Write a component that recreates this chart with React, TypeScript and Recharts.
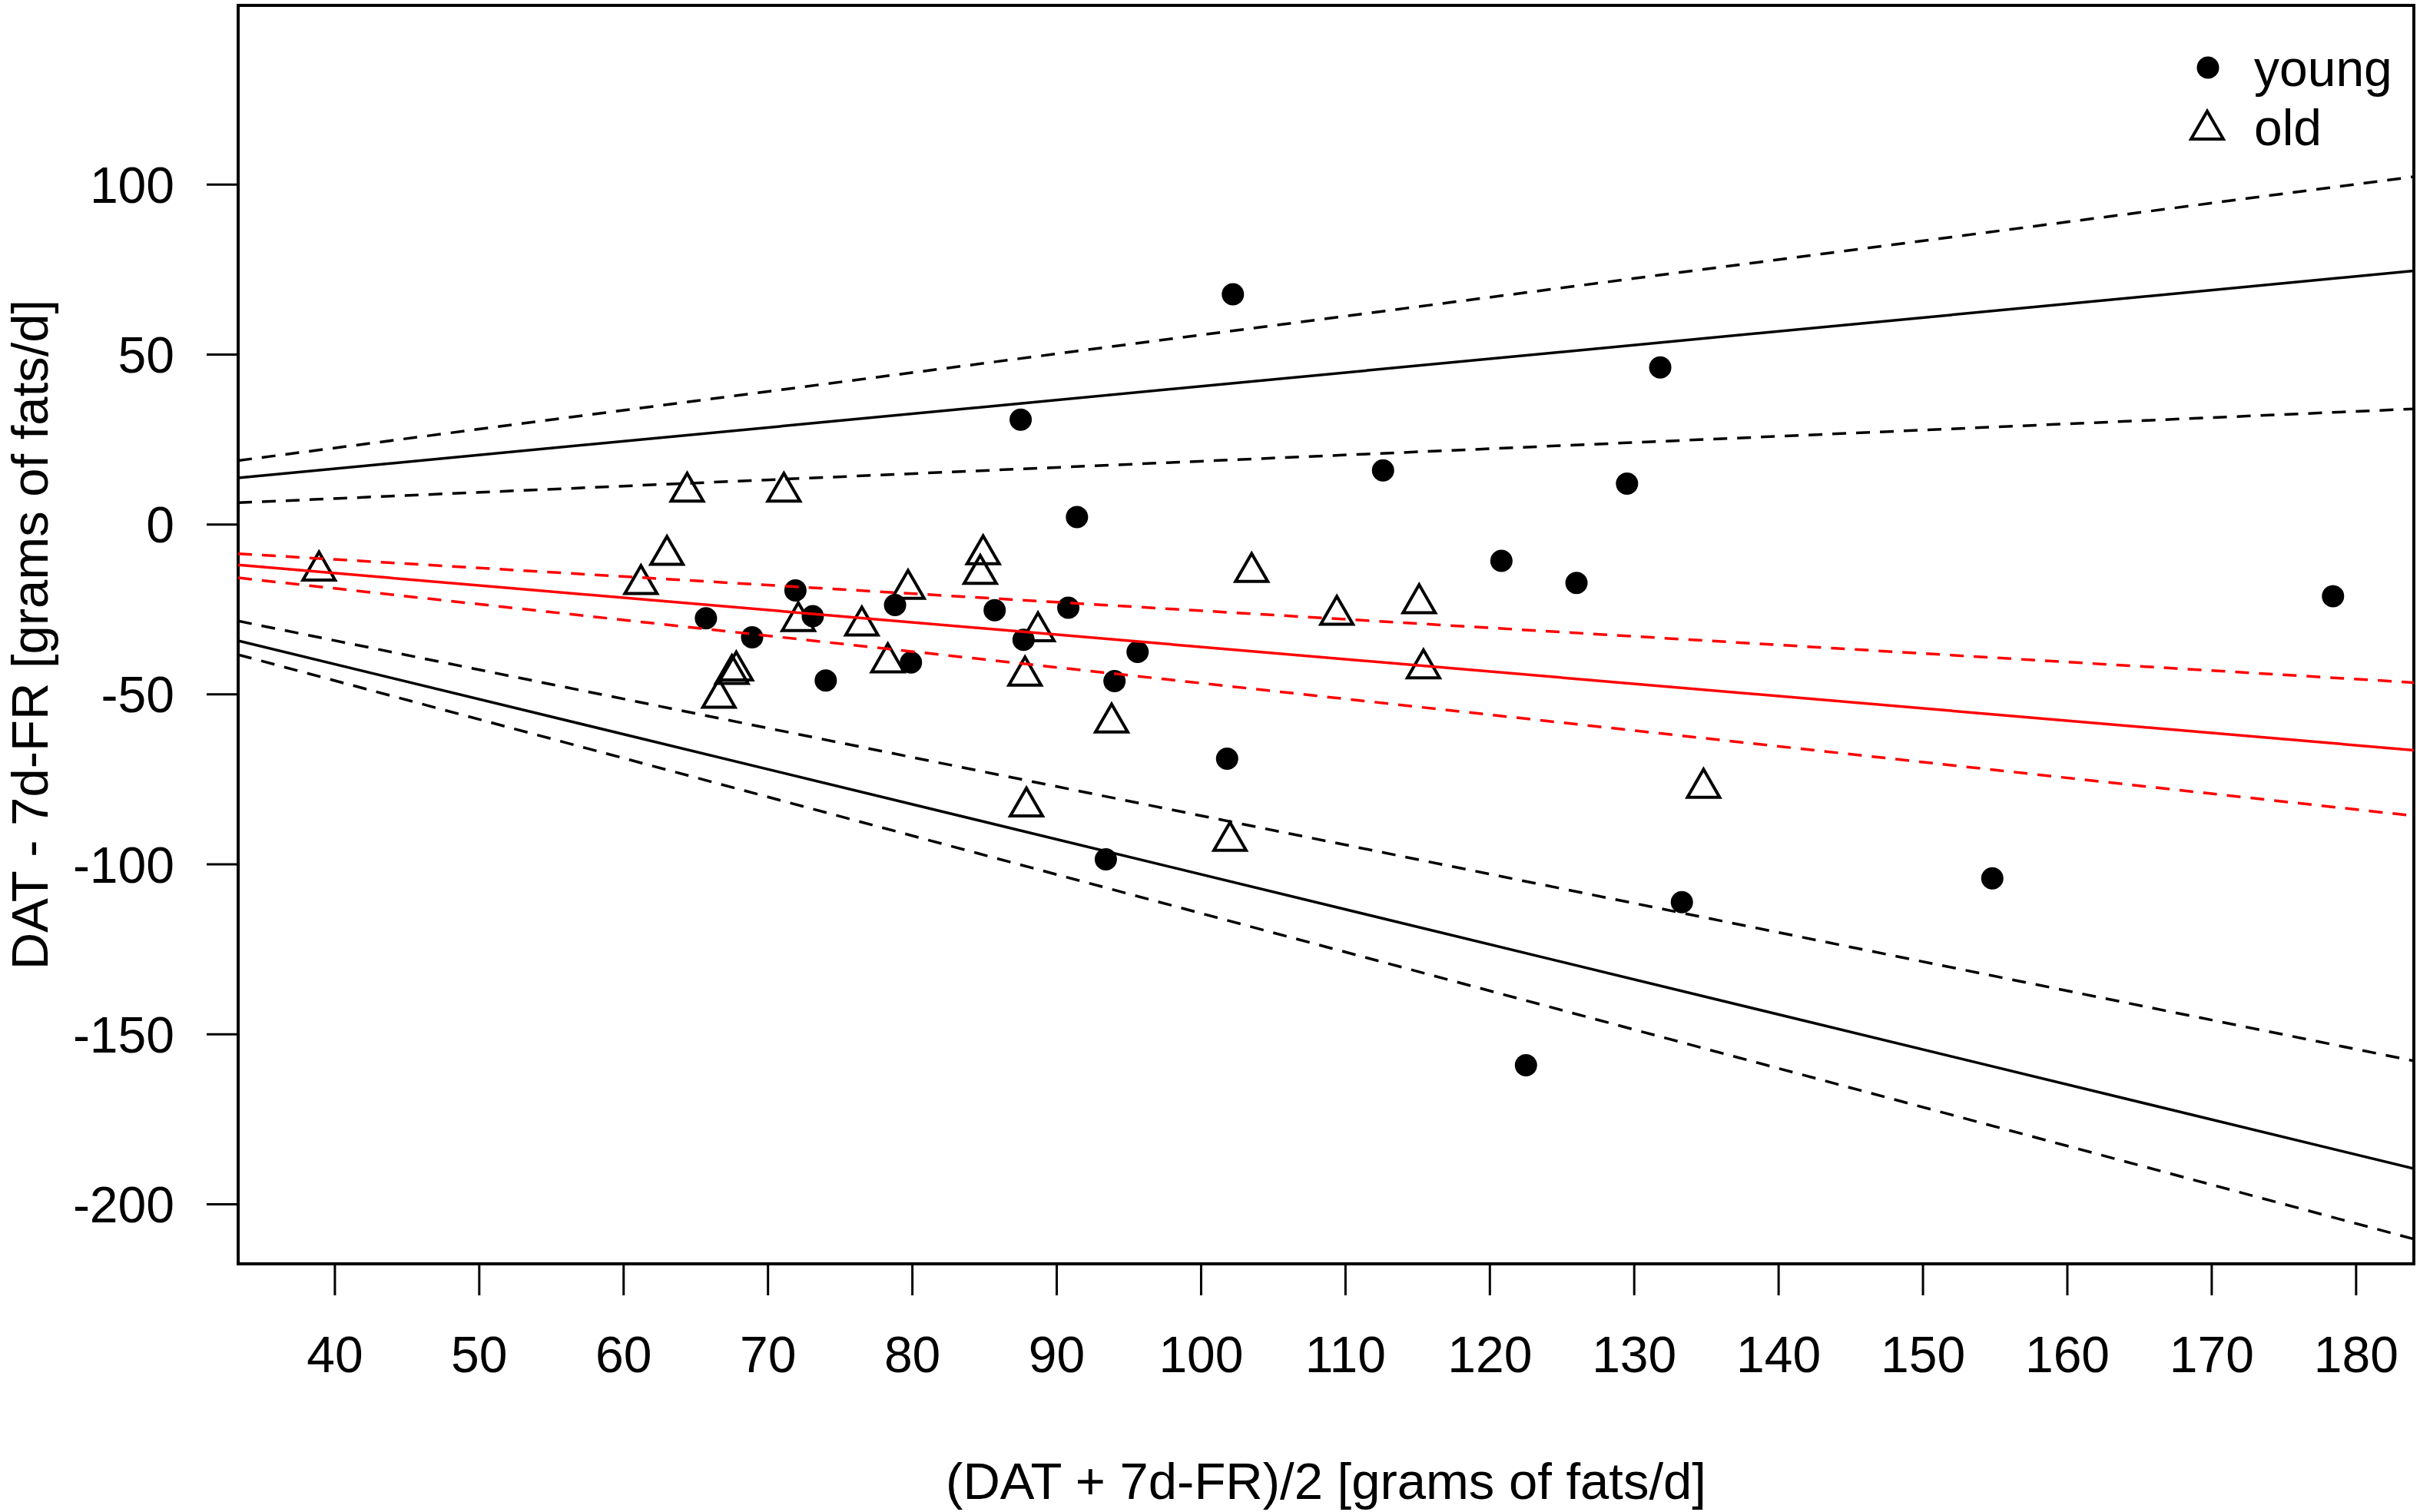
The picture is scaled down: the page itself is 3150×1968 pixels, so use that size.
import React from 'react';
import { ScatterChart, Scatter, XAxis, YAxis, ReferenceArea, Legend } from 'recharts';

// ---- data ----
const youngX = [102.2, 87.5, 131.8, 112.6, 129.5, 91.4, 120.8, 126.0, 178.4, 65.7, 71.9, 68.9, 73.1, 74.0, 78.8, 79.9, 85.7, 87.7, 90.8, 94.0, 95.6, 101.8, 93.4, 133.3, 154.8, 122.5];
const youngY = [67.7, 30.8, 46.2, 15.9, 12.0, 2.2, -10.7, -17.2, -21.1, -27.6, -19.4, -33.2, -27.0, -45.9, -23.7, -40.6, -25.2, -33.9, -24.5, -46.1, -37.5, -68.9, -98.5, -111.1, -104.1, -159.1];

const oldX = [38.9, 64.4, 71.1, 63.0, 61.2, 84.9, 84.7, 79.7, 72.1, 76.5, 88.7, 78.3, 67.5, 67.8, 66.6, 87.8, 93.8, 87.9, 102.0, 103.5, 109.4, 115.1, 115.4, 134.8];
const oldY = [-13.6, 9.6, 9.6, -9.0, -17.6, -8.8, -14.6, -19.0, -28.5, -29.8, -31.5, -40.6, -44.0, -43.0, -51.0, -44.5, -58.3, -83.0, -93.1, -14.0, -26.6, -23.2, -42.4, -77.5];

const xTicks = [40, 50, 60, 70, 80, 90, 100, 110, 120, 130, 140, 150, 160, 170, 180];
const yTicks = [-200, -150, -100, -50, 0, 50, 100];
const xDomain = [33.3, 184.0];
const yDomain = [-217.5, 152.7];

// regression lines: values at the two ends of lineX
const lineX = [33.3, 184.0];
const loaUpper = [13.7, 74.6];
const loaUpperHi = [18.8, 102.3];
const loaUpperLo = [6.4, 34.0];
const bias = [-11.9, -66.4];
const biasHi = [-8.6, -46.5];
const biasLo = [-15.7, -85.7];
const loaLower = [-34.2, -189.5];
const loaLowerHi = [-28.4, -157.8];
const loaLowerLo = [-38.3, -210.2];

const xLabel = '(DAT + 7d-FR)/2 [grams of fats/d]';
const yLabel = 'DAT - 7d-FR [grams of fats/d]';
const seriesNames = ['young', 'old'];
const seriesShapes = ['circle', 'triangle'];

// ---- styles ----
const FONT = '"Liberation Sans", Arial, Helvetica, sans-serif';
const FS = 66;
const LABEL_FS = 67;
const CIRCLE_R = 14.5;
const TRI_R = 24.2;
const DASH = '18 13';
const LW = 3.5;

const youngData = youngX.map((x, i) => ({ x, y: youngY[i] }));
const oldData = oldX.map((x, i) => ({ x, y: oldY[i] }));
const mk = (vals: number[]) => lineX.map((x, i) => ({ x, y: vals[i] }));

const lines = [
  { data: mk(loaUpperHi), color: '#000', dash: DASH },
  { data: mk(loaUpper), color: '#000', dash: undefined },
  { data: mk(loaUpperLo), color: '#000', dash: DASH },
  { data: mk(biasHi), color: '#ff0000', dash: DASH },
  { data: mk(bias), color: '#ff0000', dash: undefined },
  { data: mk(biasLo), color: '#ff0000', dash: DASH },
  { data: mk(loaLowerHi), color: '#000', dash: DASH },
  { data: mk(loaLower), color: '#000', dash: undefined },
  { data: mk(loaLowerLo), color: '#000', dash: DASH },
];

const triPoints = (cx: number, cy: number, r: number) => {
  const hx = r * Math.sqrt(3) / 2;
  return `${cx},${cy - r} ${cx + hx},${cy + r / 2} ${cx - hx},${cy + r / 2}`;
};

const CircleShape = (props: any) => (
  <circle cx={props.cx} cy={props.cy} r={CIRCLE_R} fill="#000" />
);
const TriangleShape = (props: any) => (
  <polygon points={triPoints(props.cx, props.cy, TRI_R)} fill="none" stroke="#000" strokeWidth={4} strokeLinejoin="miter" />
);
const NoShape = () => <g />;

const renderLegend = (props: any) => {
  const payload = (props.payload || [])
    .filter((e: any) => seriesNames.includes(e.value))
    .sort((a: any, b: any) => seriesNames.indexOf(a.value) - seriesNames.indexOf(b.value));
  return (
    <svg width={300} height={170} style={{ display: 'block' }}>
      {payload.map((entry: any, i: number) => {
        const shape = seriesShapes[seriesNames.indexOf(entry.value)];
        const cy = 38 + i * 77;
        return (
          <g key={entry.value}>
            {shape === 'circle' ? (
              <circle cx={34} cy={cy} r={CIRCLE_R} fill="#000" />
            ) : (
              <polygon points={triPoints(33, cy + 4, TRI_R)} fill="none" stroke="#000" strokeWidth={4} />
            )}
            <text x={94} y={cy + 24} fontSize={FS} fontFamily={FONT} fill="#000">
              {entry.value}
            </text>
          </g>
        );
      })}
    </svg>
  );
};

const XLabelContent = (props: any) => {
  const vb = props.viewBox || { x: 0, y: 0, width: 0, height: 0 };
  const cx = vb.x + vb.width / 2;
  const baseline = vb.y + vb.height - 17;
  return (
    <text x={cx} y={baseline} textAnchor="middle" fontSize={LABEL_FS} fontFamily={FONT} fill="#000">
      {xLabel}
    </text>
  );
};

const YLabelContent = (props: any) => {
  const vb = props.viewBox || { x: 0, y: 0, width: 0, height: 0 };
  const cy = vb.y + vb.height / 2;
  const bx = vb.x + 62;
  return (
    <text
      x={bx}
      y={cy}
      transform={`rotate(-90 ${bx} ${cy})`}
      textAnchor="middle"
      fontSize={LABEL_FS}
      fontFamily={FONT}
      fill="#000"
    >
      {yLabel}
    </text>
  );
};

export default function App() {
  const tickStyle = { fontSize: FS, fill: '#000', fontFamily: FONT };
  return (
    <div style={{ position: 'absolute', left: 0, top: 0, width: 3150, height: 1968, background: '#fff' }}>
      <ScatterChart width={3150} height={1968} margin={{ top: 7, right: 8, bottom: 0, left: 0 }}>
        <XAxis
          type="number"
          dataKey="x"
          domain={xDomain}
          ticks={xTicks}
          allowDataOverflow
          height={323}
          tickSize={41}
          tickMargin={53}
          axisLine={false}
          tickLine={{ stroke: '#000', strokeWidth: 3 }}
          tick={tickStyle}
          interval={0}
          label={<XLabelContent />}
        />
        <YAxis
          type="number"
          dataKey="y"
          domain={yDomain}
          ticks={yTicks}
          allowDataOverflow
          width={310}
          tickSize={41}
          tickMargin={42}
          axisLine={false}
          tickLine={{ stroke: '#000', strokeWidth: 3 }}
          tick={tickStyle}
          interval={0}
          label={<YLabelContent />}
        />
        <Legend
          layout="vertical"
          align="center"
          verticalAlign="middle"
          content={renderLegend}
          wrapperStyle={{ position: 'absolute', left: 2840, top: 50, width: 300, height: 170 }}
        />
        <Scatter name="young" data={youngData} shape={CircleShape} isAnimationActive={false} />
        <Scatter name="old" data={oldData} shape={TriangleShape} isAnimationActive={false} />
        {lines.map((l, i) => (
          <Scatter
            key={i}
            data={l.data}
            line={{ stroke: l.color, strokeWidth: LW, strokeDasharray: l.dash }}
            shape={NoShape}
            fill={l.color}
            legendType="none"
            isAnimationActive={false}
          />
        ))}
        <ReferenceArea
          x1={xDomain[0]}
          x2={xDomain[1]}
          y1={yDomain[0]}
          y2={yDomain[1]}
          fill="none"
          fillOpacity={0}
          stroke="#000"
          strokeWidth={4}
          ifOverflow="visible"
        />
      </ScatterChart>
    </div>
  );
}
